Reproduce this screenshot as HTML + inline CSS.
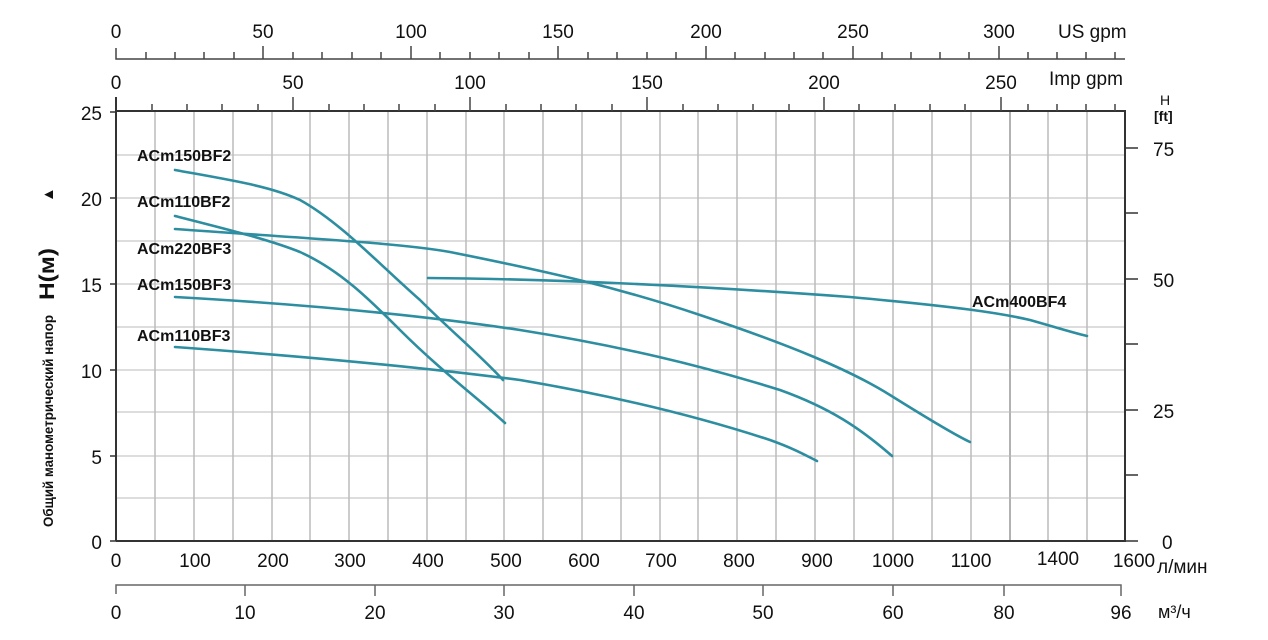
<!DOCTYPE html>
<html><head><meta charset="utf-8"><style>
body{margin:0;background:#fff;}
svg text{font-family:"Liberation Sans",sans-serif;fill:#111;}
</style></head><body>
<svg width="1268" height="635" viewBox="0 0 1268 635" xmlns="http://www.w3.org/2000/svg">
<g stroke="#999" stroke-width="1">
<line x1="155" y1="112" x2="155" y2="541"/><line x1="194" y1="112" x2="194" y2="541"/><line x1="233" y1="112" x2="233" y2="541"/><line x1="272" y1="112" x2="272" y2="541"/><line x1="310" y1="112" x2="310" y2="541"/><line x1="349" y1="112" x2="349" y2="541"/><line x1="388" y1="112" x2="388" y2="541"/><line x1="427" y1="112" x2="427" y2="541"/><line x1="466" y1="112" x2="466" y2="541"/><line x1="504" y1="112" x2="504" y2="541"/><line x1="543" y1="112" x2="543" y2="541"/><line x1="582" y1="112" x2="582" y2="541"/><line x1="621" y1="112" x2="621" y2="541"/><line x1="660" y1="112" x2="660" y2="541"/><line x1="698" y1="112" x2="698" y2="541"/><line x1="737" y1="112" x2="737" y2="541"/><line x1="776" y1="112" x2="776" y2="541"/><line x1="815" y1="112" x2="815" y2="541"/><line x1="854" y1="112" x2="854" y2="541"/><line x1="893" y1="112" x2="893" y2="541"/><line x1="932" y1="112" x2="932" y2="541"/><line x1="971" y1="112" x2="971" y2="541"/><line x1="1010" y1="112" x2="1010" y2="541" stroke="#666"/><line x1="1048" y1="112" x2="1048" y2="541"/><line x1="1087" y1="112" x2="1087" y2="541"/>
</g>
<g stroke="#bbb" stroke-width="1">
<line x1="116" y1="155" x2="1125" y2="155"/><line x1="116" y1="198" x2="1125" y2="198"/><line x1="116" y1="241" x2="1125" y2="241"/><line x1="116" y1="284" x2="1125" y2="284"/><line x1="116" y1="327" x2="1125" y2="327"/><line x1="116" y1="370" x2="1125" y2="370"/><line x1="116" y1="412" x2="1125" y2="412"/><line x1="116" y1="456" x2="1125" y2="456"/><line x1="116" y1="498" x2="1125" y2="498"/>
</g>
<g stroke="#333" stroke-width="2" fill="none">
<line x1="116" y1="111" x2="1126" y2="111"/>
<line x1="116" y1="541" x2="1126" y2="541"/>
<line x1="116" y1="97" x2="116" y2="541"/>
<line x1="1125" y1="111" x2="1125" y2="541"/>
</g>
<g stroke="#333" stroke-width="1.5">
<line x1="110" y1="112" x2="116" y2="112"/><line x1="110" y1="198" x2="116" y2="198"/><line x1="110" y1="284" x2="116" y2="284"/><line x1="110" y1="370" x2="116" y2="370"/><line x1="110" y1="456" x2="116" y2="456"/><line x1="110" y1="541" x2="116" y2="541"/>
<line x1="1125" y1="148" x2="1138" y2="148"/><line x1="1125" y1="213" x2="1138" y2="213"/><line x1="1125" y1="279" x2="1138" y2="279"/><line x1="1125" y1="344" x2="1138" y2="344"/><line x1="1125" y1="410" x2="1138" y2="410"/><line x1="1125" y1="475" x2="1138" y2="475"/><line x1="1125" y1="541" x2="1138" y2="541"/>
</g>
<g font-size="19" text-anchor="end">
<text x="102" y="120">25</text><text x="102" y="206">20</text><text x="102" y="292">15</text><text x="102" y="378">10</text><text x="102" y="464">5</text><text x="102" y="549">0</text>
</g>
<g font-size="19" text-anchor="start">
<text x="1153" y="156">75</text><text x="1153" y="287">50</text><text x="1153" y="418">25</text><text x="1162" y="549">0</text>
</g>
<text x="1160" y="105" font-size="14">H</text>
<text x="1154" y="121" font-size="14" font-weight="bold">[ft]</text>
<g stroke="#444" stroke-width="1.5" fill="none">
<polyline points="116,48 116,59 1125,59"/>
<line x1="263" y1="46" x2="263" y2="59"/><line x1="411" y1="46" x2="411" y2="59"/><line x1="558" y1="46" x2="558" y2="59"/><line x1="706" y1="46" x2="706" y2="59"/><line x1="853" y1="46" x2="853" y2="59"/><line x1="999" y1="46" x2="999" y2="59"/>
<line x1="146" y1="52" x2="146" y2="59"/><line x1="175" y1="52" x2="175" y2="59"/><line x1="204" y1="52" x2="204" y2="59"/><line x1="234" y1="52" x2="234" y2="59"/><line x1="293" y1="52" x2="293" y2="59"/><line x1="322" y1="52" x2="322" y2="59"/><line x1="352" y1="52" x2="352" y2="59"/><line x1="381" y1="52" x2="381" y2="59"/><line x1="440" y1="52" x2="440" y2="59"/><line x1="470" y1="52" x2="470" y2="59"/><line x1="499" y1="52" x2="499" y2="59"/><line x1="529" y1="52" x2="529" y2="59"/><line x1="588" y1="52" x2="588" y2="59"/><line x1="617" y1="52" x2="617" y2="59"/><line x1="647" y1="52" x2="647" y2="59"/><line x1="676" y1="52" x2="676" y2="59"/><line x1="735" y1="52" x2="735" y2="59"/><line x1="765" y1="52" x2="765" y2="59"/><line x1="794" y1="52" x2="794" y2="59"/><line x1="823" y1="52" x2="823" y2="59"/><line x1="882" y1="52" x2="882" y2="59"/><line x1="911" y1="52" x2="911" y2="59"/><line x1="940" y1="52" x2="940" y2="59"/><line x1="969" y1="52" x2="969" y2="59"/><line x1="1028" y1="52" x2="1028" y2="59"/><line x1="1057" y1="52" x2="1057" y2="59"/><line x1="1086" y1="52" x2="1086" y2="59"/><line x1="1115" y1="52" x2="1115" y2="59"/>
</g>
<g font-size="19" text-anchor="middle">
<text x="116" y="38">0</text><text x="263" y="38">50</text><text x="411" y="38">100</text><text x="558" y="38">150</text><text x="706" y="38">200</text><text x="853" y="38">250</text><text x="999" y="38">300</text>
</g>
<text x="1058" y="38" font-size="19">US gpm</text>
<g stroke="#444" stroke-width="1.5">
<line x1="293" y1="97" x2="293" y2="111"/><line x1="470" y1="97" x2="470" y2="111"/><line x1="647" y1="97" x2="647" y2="111"/><line x1="824" y1="97" x2="824" y2="111"/><line x1="1001" y1="97" x2="1001" y2="111"/>
<line x1="152" y1="104" x2="152" y2="111"/><line x1="187" y1="104" x2="187" y2="111"/><line x1="222" y1="104" x2="222" y2="111"/><line x1="258" y1="104" x2="258" y2="111"/><line x1="329" y1="104" x2="329" y2="111"/><line x1="364" y1="104" x2="364" y2="111"/><line x1="399" y1="104" x2="399" y2="111"/><line x1="435" y1="104" x2="435" y2="111"/><line x1="506" y1="104" x2="506" y2="111"/><line x1="541" y1="104" x2="541" y2="111"/><line x1="576" y1="104" x2="576" y2="111"/><line x1="612" y1="104" x2="612" y2="111"/><line x1="683" y1="104" x2="683" y2="111"/><line x1="718" y1="104" x2="718" y2="111"/><line x1="753" y1="104" x2="753" y2="111"/><line x1="789" y1="104" x2="789" y2="111"/><line x1="859" y1="104" x2="859" y2="111"/><line x1="895" y1="104" x2="895" y2="111"/><line x1="930" y1="104" x2="930" y2="111"/><line x1="965" y1="104" x2="965" y2="111"/><line x1="1028" y1="104" x2="1028" y2="111"/><line x1="1057" y1="104" x2="1057" y2="111"/><line x1="1086" y1="104" x2="1086" y2="111"/><line x1="1115" y1="104" x2="1115" y2="111"/>
</g>
<g font-size="19" text-anchor="middle">
<text x="116" y="89">0</text><text x="293" y="89">50</text><text x="470" y="89">100</text><text x="647" y="89">150</text><text x="824" y="89">200</text><text x="1001" y="89">250</text>
</g>
<text x="1049" y="85" font-size="19">Imp gpm</text>
<g font-size="19" text-anchor="middle">
<text x="116" y="567">0</text><text x="195" y="567">100</text><text x="273" y="567">200</text><text x="350" y="567">300</text><text x="428" y="567">400</text><text x="506" y="567">500</text><text x="584" y="567">600</text><text x="661" y="567">700</text><text x="739" y="567">800</text><text x="817" y="567">900</text><text x="893" y="567">1000</text><text x="971" y="567">1100</text><text x="1058" y="565">1400</text><text x="1134" y="567">1600</text>
</g>
<text x="1157" y="573" font-size="19">л/мин</text>
<g stroke="#666" stroke-width="1.5" fill="none">
<polyline points="116,594 116,585 1121,585 1121,596"/>
<line x1="245" y1="585" x2="245" y2="596"/><line x1="375" y1="585" x2="375" y2="596"/><line x1="504" y1="585" x2="504" y2="596"/><line x1="634" y1="585" x2="634" y2="596"/><line x1="763" y1="585" x2="763" y2="596"/><line x1="893" y1="585" x2="893" y2="596"/><line x1="1004" y1="585" x2="1004" y2="596"/>
</g>
<g font-size="19" text-anchor="middle">
<text x="116" y="619">0</text><text x="245" y="619">10</text><text x="375" y="619">20</text><text x="504" y="619">30</text><text x="634" y="619">40</text><text x="763" y="619">50</text><text x="893" y="619">60</text><text x="1004" y="619">80</text><text x="1121" y="619">96</text>
</g>
<text x="1158" y="618" font-size="18">м³/ч</text>
<g transform="translate(53,527) rotate(-90)">
<text x="0" y="0" font-size="14" font-weight="bold" textLength="212" lengthAdjust="spacingAndGlyphs">Общий манометрический напор</text>
<text x="227" y="1" font-size="21" font-weight="bold" textLength="52" lengthAdjust="spacingAndGlyphs">H(м)</text>
<text x="325" y="0" font-size="15">▲</text>
</g>
<g stroke="#2c8ea0" stroke-width="2.6" fill="none" stroke-linecap="round" stroke-linejoin="round">
<path d="M175,170 C230,180 270,186 300,200 C340,222 380,265 420,300 C450,330 480,355 503,380"/>
<path d="M175,216 C230,230 270,240 300,252 C340,270 370,300 400,330 C440,370 480,400 505,423"/>
<path d="M175,229 C300,238 400,243 450,252 C550,272 620,288 700,315 C790,345 850,370 890,395 C930,420 955,435 970,442"/>
<path d="M428,278 C550,279 700,286 850,297 C960,307 1000,313 1030,320 C1055,327 1070,332 1087,336"/>
<path d="M175,297 C300,304 420,315 520,330 C620,346 700,365 780,390 C830,408 860,428 892,456"/>
<path d="M175,347 C300,356 420,367 520,380 C620,397 700,417 770,440 C795,449 805,455 817,461"/>
</g>
<g font-size="16" font-weight="bold">
<text x="137" y="161">ACm150BF2</text>
<text x="137" y="207">ACm110BF2</text>
<text x="137" y="254">ACm220BF3</text>
<text x="137" y="290">ACm150BF3</text>
<text x="137" y="341">ACm110BF3</text>
<text x="972" y="307">ACm400BF4</text>
</g>
</svg>
</body></html>
